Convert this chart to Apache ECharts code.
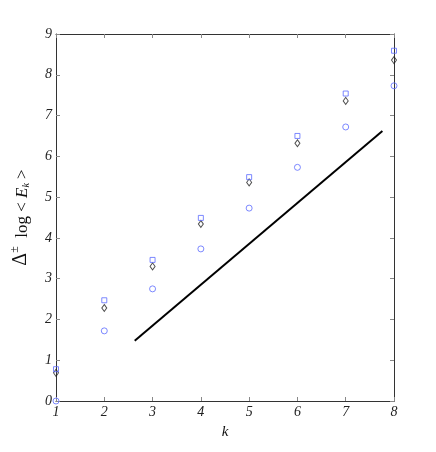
<!DOCTYPE html>
<html><head><meta charset="utf-8">
<script src="https://cdn.jsdelivr.net/npm/echarts@6/dist/echarts.min.js"></script>
<style>html,body{margin:0;padding:0;background:#fff;}#c{width:436px;height:452px;}</style>
</head><body><div id="c"></div>
<script>
const kValues = [1, 2, 3, 4, 5, 6, 7, 8];
const squareValues = [0.78, 2.47, 3.46, 4.49, 5.49, 6.50, 7.54, 8.59];
const diamondValues = [0.69, 2.28, 3.30, 4.34, 5.36, 6.32, 7.36, 8.36];
const circleValues = [0.00, 1.72, 2.75, 3.73, 4.73, 5.73, 6.72, 7.73];
const lineX = [2.63, 7.76];
const lineY = [1.48, 6.62];
const xTicks = [1, 2, 3, 4, 5, 6, 7, 8];
const yTicks = [0, 1, 2, 3, 4, 5, 6, 7, 8, 9];

const pair = (xs, ys) => xs.map((x, i) => [x, ys[i]]);
const font = 'Liberation Serif';
const axisCol = '#333';
const blue = '#5c6cff';

const chart = echarts.init(document.getElementById('c'), null, {renderer: 'canvas'});
const baseAxis = {
  axisLine: {show: true, onZero: false, lineStyle: {color: axisCol, width: 1}},
  axisTick: {show: true, inside: true, length: 4, lineStyle: {color: '#888'}},
  splitLine: {show: false},
};
chart.setOption({
  animation: false,
  backgroundColor: '#fff',
  grid: {left: 56, right: 42, top: 34, bottom: 51, containLabel: false, outerBoundsMode: 'none'},
  xAxis: [
    Object.assign({}, baseAxis, {
      type: 'value', min: xTicks[0], max: xTicks[xTicks.length - 1], interval: 1, position: 'bottom',
      name: 'k', nameLocation: 'middle', nameGap: 24,
      nameTextStyle: {fontFamily: font, fontStyle: 'italic', fontSize: 15, color: '#111'},
      axisLabel: {fontFamily: font, fontStyle: 'italic', fontSize: 14, color: '#222', margin: 4}
    }),
    Object.assign({}, baseAxis, {
      type: 'value', min: xTicks[0], max: xTicks[xTicks.length - 1], interval: 1, position: 'top',
      axisLabel: {show: false}
    })
  ],
  yAxis: [
    Object.assign({}, baseAxis, {
      type: 'value', min: yTicks[0], max: yTicks[yTicks.length - 1], interval: 1, position: 'left',
      name: '{d|Δ}{s|±}{n|  log < }{e|E}{k|k}{n| >}',
      nameLocation: 'middle', nameGap: 25, nameRotate: 90,
      nameTextStyle: {
        fontFamily: font, fontSize: 17, color: '#111', lineHeight: 22,
        rich: {
          d: {fontFamily: font, fontSize: 20, color: '#111', lineHeight: 22, verticalAlign: 'bottom'},
          s: {fontFamily: font, fontSize: 12, color: '#111', lineHeight: 22, verticalAlign: 'top'},
          n: {fontFamily: font, fontSize: 17, color: '#111', lineHeight: 22, verticalAlign: 'bottom'},
          e: {fontFamily: font, fontStyle: 'italic', fontSize: 17, color: '#111', lineHeight: 22, verticalAlign: 'bottom'},
          k: {fontFamily: font, fontStyle: 'italic', fontSize: 10, color: '#111', lineHeight: 18, verticalAlign: 'bottom'}
        }
      },
      axisLabel: {fontFamily: font, fontStyle: 'italic', fontSize: 14, color: '#222', margin: 4}
    }),
    Object.assign({}, baseAxis, {
      type: 'value', min: yTicks[0], max: yTicks[yTicks.length - 1], interval: 1, position: 'right',
      axisLabel: {show: false}
    })
  ],
  series: [
    {
      type: 'line', data: pair(lineX, lineY), symbol: 'none', silent: true,
      lineStyle: {color: '#000', width: 2}, z: 2
    },
    {
      type: 'scatter', data: pair(kValues, circleValues), symbol: 'circle', symbolSize: 6,
      itemStyle: {color: 'transparent', borderColor: blue, borderWidth: 1}, z: 3
    },
    {
      type: 'scatter', data: pair(kValues, diamondValues), symbol: 'diamond', symbolSize: [5, 7],
      itemStyle: {color: 'transparent', borderColor: '#222', borderWidth: 1}, z: 3
    },
    {
      type: 'scatter', data: pair(kValues, squareValues), symbol: 'rect', symbolSize: 5,
      itemStyle: {color: 'transparent', borderColor: blue, borderWidth: 1}, z: 3
    }
  ]
});
</script></body></html>
